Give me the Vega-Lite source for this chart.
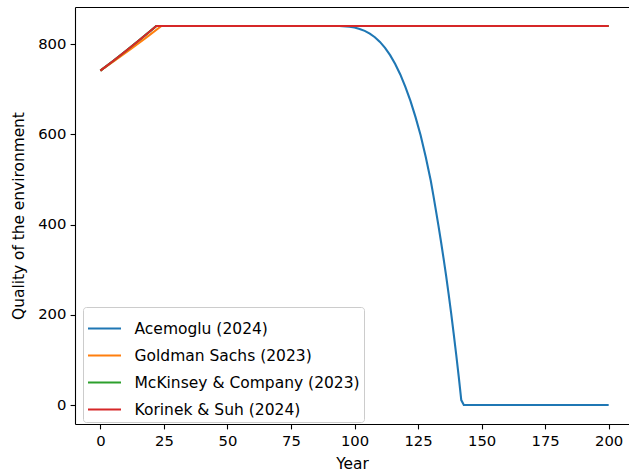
{
  "$schema": "https://vega.github.io/schema/vega-lite/v6.json",
  "autosize": {"type": "none"},
  "width": 554,
  "height": 417,
  "padding": {"left": 75, "top": 7, "right": 0, "bottom": 51},
  "background": "white",
  "config": {
    "font": "DejaVu Sans",
    "view": {"stroke": null},
    "axis": {
      "labelFont": "DejaVu Sans", "titleFont": "DejaVu Sans",
      "labelFontSize": 14.8, "titleFontSize": 15.4, "titleFontWeight": "normal",
      "labelColor": "#000", "titleColor": "#000",
      "domainColor": "#000", "tickColor": "#000",
      "domainWidth": 1.1, "tickWidth": 1.1, "tickSize": 4.9,
      "labelPadding": 4.2, "grid": false
    },
    "legend": {
      "labelFont": "DejaVu Sans", "labelFontSize": 15.5, "labelColor": "#000"
    }
  },
  "data": {"values": [
    {"year": 0, "value": 741, "series": "Acemoglu (2024)"},
    {"year": 5, "value": 762.4, "series": "Acemoglu (2024)"},
    {"year": 10, "value": 784.4, "series": "Acemoglu (2024)"},
    {"year": 15, "value": 807.1, "series": "Acemoglu (2024)"},
    {"year": 20, "value": 830.4, "series": "Acemoglu (2024)"},
    {"year": 22, "value": 840, "series": "Acemoglu (2024)"},
    {"year": 90, "value": 840, "series": "Acemoglu (2024)"},
    {"year": 94, "value": 839.8, "series": "Acemoglu (2024)"},
    {"year": 98, "value": 838.3, "series": "Acemoglu (2024)"},
    {"year": 100, "value": 836.4, "series": "Acemoglu (2024)"},
    {"year": 102, "value": 833.4, "series": "Acemoglu (2024)"},
    {"year": 104, "value": 829.1, "series": "Acemoglu (2024)"},
    {"year": 106, "value": 823.1, "series": "Acemoglu (2024)"},
    {"year": 108, "value": 815, "series": "Acemoglu (2024)"},
    {"year": 110, "value": 804.6, "series": "Acemoglu (2024)"},
    {"year": 112, "value": 791.5, "series": "Acemoglu (2024)"},
    {"year": 114, "value": 775.4, "series": "Acemoglu (2024)"},
    {"year": 116, "value": 755.8, "series": "Acemoglu (2024)"},
    {"year": 118, "value": 732.5, "series": "Acemoglu (2024)"},
    {"year": 120, "value": 705, "series": "Acemoglu (2024)"},
    {"year": 122, "value": 674, "series": "Acemoglu (2024)"},
    {"year": 124, "value": 638, "series": "Acemoglu (2024)"},
    {"year": 126, "value": 598, "series": "Acemoglu (2024)"},
    {"year": 128, "value": 550, "series": "Acemoglu (2024)"},
    {"year": 130, "value": 497, "series": "Acemoglu (2024)"},
    {"year": 131, "value": 465, "series": "Acemoglu (2024)"},
    {"year": 132, "value": 432, "series": "Acemoglu (2024)"},
    {"year": 133, "value": 398, "series": "Acemoglu (2024)"},
    {"year": 134, "value": 363, "series": "Acemoglu (2024)"},
    {"year": 135, "value": 326, "series": "Acemoglu (2024)"},
    {"year": 136, "value": 288, "series": "Acemoglu (2024)"},
    {"year": 137, "value": 247, "series": "Acemoglu (2024)"},
    {"year": 138, "value": 204, "series": "Acemoglu (2024)"},
    {"year": 139, "value": 159, "series": "Acemoglu (2024)"},
    {"year": 140, "value": 112, "series": "Acemoglu (2024)"},
    {"year": 141, "value": 63, "series": "Acemoglu (2024)"},
    {"year": 142, "value": 11, "series": "Acemoglu (2024)"},
    {"year": 143, "value": 0, "series": "Acemoglu (2024)"},
    {"year": 200, "value": 0, "series": "Acemoglu (2024)"},
    {"year": 0, "value": 741, "series": "Goldman Sachs (2023)"},
    {"year": 6, "value": 764.6, "series": "Goldman Sachs (2023)"},
    {"year": 12, "value": 788.9, "series": "Goldman Sachs (2023)"},
    {"year": 18, "value": 814, "series": "Goldman Sachs (2023)"},
    {"year": 24, "value": 840, "series": "Goldman Sachs (2023)"},
    {"year": 200, "value": 840, "series": "Goldman Sachs (2023)"},
    {"year": 0, "value": 741, "series": "McKinsey & Company (2023)"},
    {"year": 5, "value": 762.4, "series": "McKinsey & Company (2023)"},
    {"year": 10, "value": 784.4, "series": "McKinsey & Company (2023)"},
    {"year": 15, "value": 807.1, "series": "McKinsey & Company (2023)"},
    {"year": 20, "value": 830.4, "series": "McKinsey & Company (2023)"},
    {"year": 22, "value": 840, "series": "McKinsey & Company (2023)"},
    {"year": 200, "value": 840, "series": "McKinsey & Company (2023)"},
    {"year": 0, "value": 741, "series": "Korinek & Suh (2024)"},
    {"year": 5, "value": 762.4, "series": "Korinek & Suh (2024)"},
    {"year": 10, "value": 784.4, "series": "Korinek & Suh (2024)"},
    {"year": 15, "value": 807.1, "series": "Korinek & Suh (2024)"},
    {"year": 20, "value": 830.4, "series": "Korinek & Suh (2024)"},
    {"year": 22, "value": 840, "series": "Korinek & Suh (2024)"},
    {"year": 200, "value": 840, "series": "Korinek & Suh (2024)"}
  ]},
  "resolve": {"axis": {"x": "independent"}},
  "layer": [
    {
      "mark": {"type": "line", "strokeWidth": 2.1, "clip": true},
      "encoding": {
        "x": {"field": "year", "type": "quantitative",
              "scale": {"domain": [-10, 208], "nice": false, "zero": false},
              "axis": {"orient": "bottom", "values": [0, 25, 50, 75, 100, 125, 150, 175, 200], "title": "Year", "titlePadding": 9}},
        "y": {"field": "value", "type": "quantitative",
              "scale": {"domain": [-42, 882], "nice": false, "zero": false},
              "axis": {"values": [0, 200, 400, 600, 800], "title": "Quality of the environment", "titlePadding": 11}},
        "color": {"field": "series", "type": "nominal",
                  "scale": {"domain": ["Acemoglu (2024)", "Goldman Sachs (2023)", "McKinsey & Company (2023)", "Korinek & Suh (2024)"],
                            "range": ["#1f77b4", "#ff7f0e", "#2ca02c", "#d62728"]},
                  "legend": {"title": null, "orient": "none", "legendX": 8, "legendY": 300,
                             "symbolType": "stroke", "symbolSize": 1089, "symbolStrokeWidth": 2.1,
                             "labelOffset": 12, "rowPadding": 0, "padding": 3.5, "labelLimit": 400,
                             "fillColor": "rgba(255,255,255,0.8)", "strokeColor": "#cccccc", "cornerRadius": 3}}
      }
    },
    {
      "mark": {"type": "line", "opacity": 0},
      "encoding": {
        "x": {"field": "year", "type": "quantitative",
              "axis": {"orient": "top", "labels": false, "ticks": false, "domain": true, "title": null}},
        "y": {"field": "value", "type": "quantitative"},
        "detail": {"field": "series"}
      }
    }
  ]
}
